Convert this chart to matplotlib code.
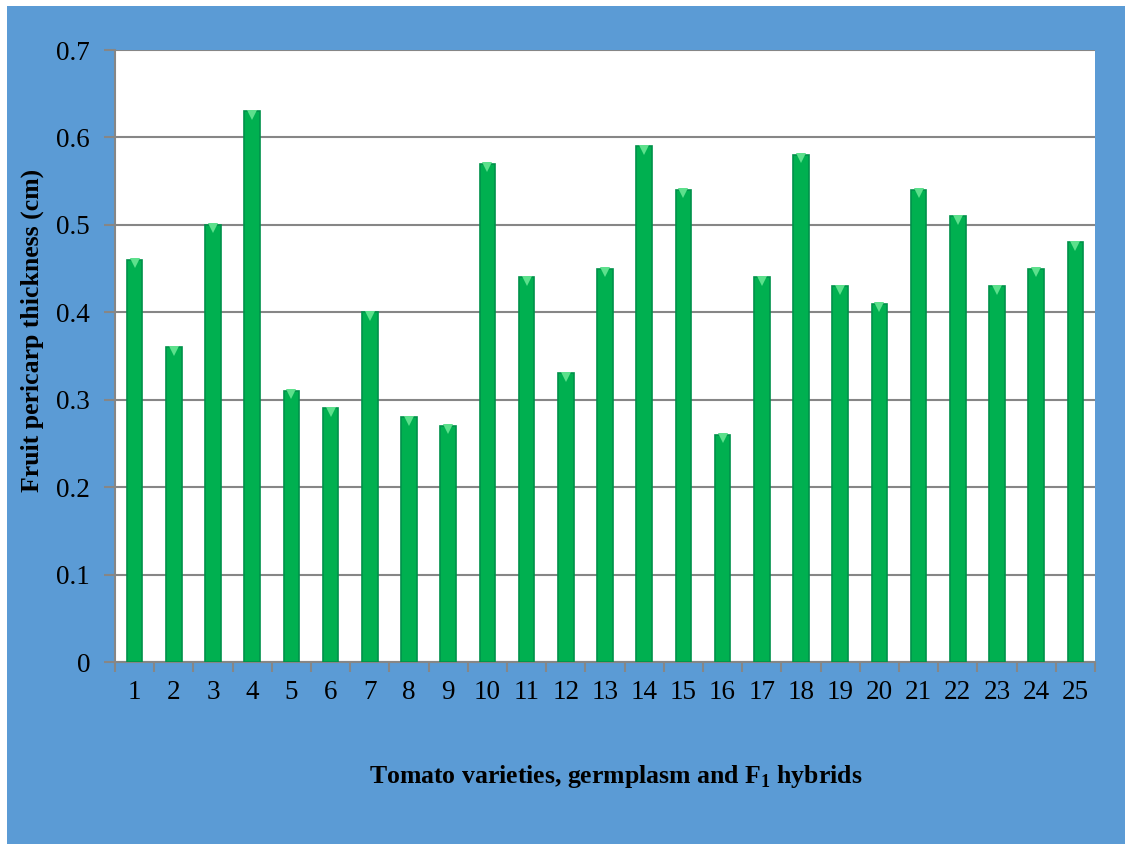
import matplotlib
matplotlib.use("Agg")
import matplotlib.pyplot as plt
from matplotlib.patches import Rectangle
import numpy as np

categories = [str(i) for i in range(1, 26)]
values = [0.46, 0.36, 0.50, 0.63, 0.31, 0.29, 0.40, 0.28, 0.27, 0.57,
          0.44, 0.33, 0.45, 0.59, 0.54, 0.26, 0.44, 0.58, 0.43, 0.41,
          0.54, 0.51, 0.43, 0.45, 0.48]
yticks = [0, 0.1, 0.2, 0.3, 0.4, 0.5, 0.6, 0.7]
ytick_labels = ["0", "0.1", "0.2", "0.3", "0.4", "0.5", "0.6", "0.7"]

plt.rcParams['font.family'] = ['Liberation Serif', 'DejaVu Serif']
plt.rcParams['mathtext.fontset'] = 'custom'
plt.rcParams['mathtext.rm'] = 'Liberation Serif'
plt.rcParams['mathtext.bf'] = 'Liberation Serif:bold'

fig = plt.figure(figsize=(11.28, 8.44), dpi=100)
fig.patch.set_facecolor('white')
fig.patches.append(Rectangle((7/1128, 0), 1118/1128, 838/844, transform=fig.transFigure,
                             facecolor='#5B9BD5', edgecolor='none', zorder=-10))

ax = fig.add_axes([115/1128, 1 - 662/844, 980/1128, 612/844])
ax.set_facecolor('white')
x = np.arange(len(categories))
ax.bar(x, values, width=0.4, color='#00B050', edgecolor='#00914A', linewidth=1.2, zorder=3)
ax.plot(x, np.array(values) - 0.004, linestyle='none', marker='v', markersize=7,
        color='#5DE08C', markeredgewidth=0, zorder=4)

ax.set_xlim(-0.5, len(categories) - 0.5)
ax.set_ylim(0, 0.7)
ax.set_yticks(yticks)
ax.set_yticklabels(ytick_labels, fontsize=19.5)
ax.set_xticks(x)
ax.set_xticklabels(categories, fontsize=19.5)
ax.set_xticks(np.arange(-0.5, len(categories)), minor=True)
ax.tick_params(axis='x', which='major', length=0, pad=13)
ax.tick_params(axis='x', which='minor', length=7, width=1.5, color='#868686', direction='out')
ax.tick_params(axis='y', length=8, width=1.5, color='#868686', direction='out', pad=10)
ax.yaxis.grid(True, color='#868686', linewidth=1.5, zorder=0)
ax.set_axisbelow(True)
for s in ['top', 'right']:
    ax.spines[s].set_visible(False)
for s in ['left', 'bottom']:
    ax.spines[s].set_color('#868686')
    ax.spines[s].set_linewidth(1.5)

fig.text(32/1128, 1 - 330/844, 'Fruit pericarp thickness (cm)', fontsize=18.5,
         fontweight='bold', rotation=90, ha='center', va='center')
fig.text(616/1128, 1 - 777/844, r'Tomato varieties, germplasm and F$_\mathbf{1}$ hybrids',
         fontsize=18.5, fontweight='bold', ha='center', va='center')

fig.savefig('out.png', dpi=100, facecolor=fig.get_facecolor())
